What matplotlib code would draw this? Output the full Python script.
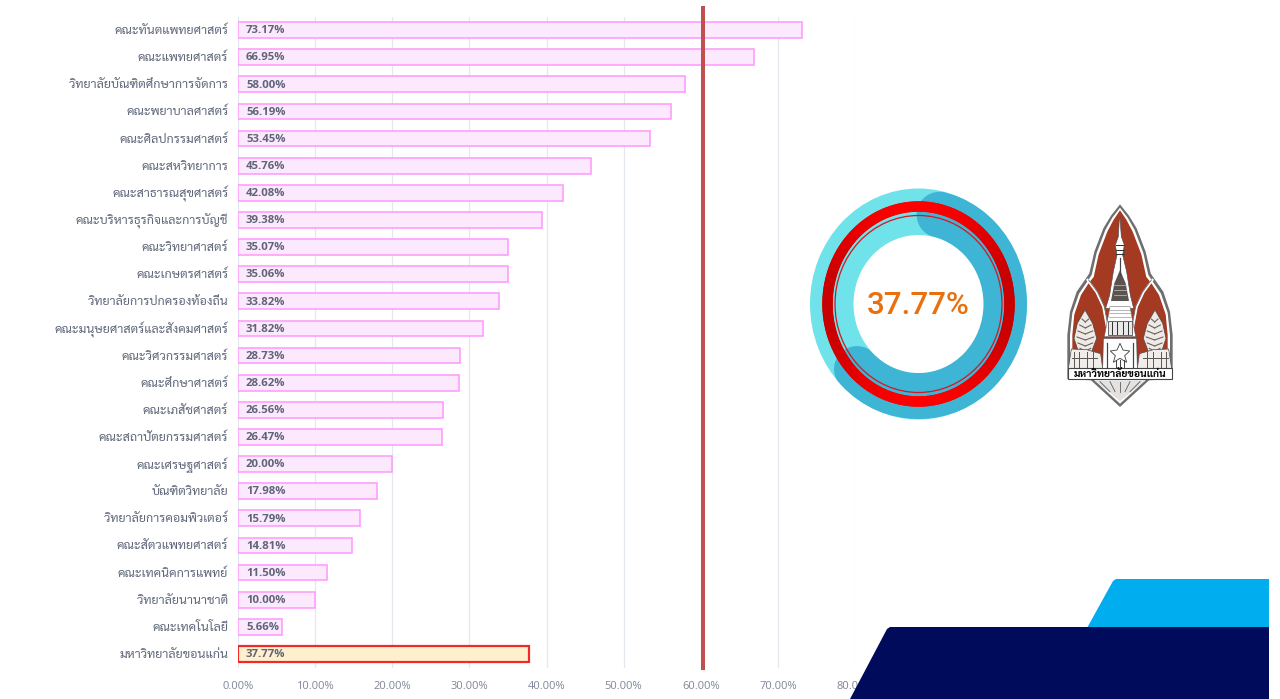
import matplotlib
matplotlib.use("Agg")
import numpy as np
import matplotlib.pyplot as plt
from matplotlib.collections import LineCollection
from matplotlib.patches import Ellipse, Polygon
from matplotlib.transforms import ScaledTranslation

plt.rcParams["font.family"] = ["Sarabun", "Noto Sans Thai", "DejaVu Sans"]

faculties = ["คณะทันตแพทยศาสตร์", "คณะแพทยศาสตร์", "วิทยาลัยบัณฑิตศึกษาการจัดการ",
             "คณะพยาบาลศาสตร์", "คณะศิลปกรรมศาสตร์", "คณะสหวิทยาการ",
             "คณะสาธารณสุขศาสตร์", "คณะบริหารธุรกิจและการบัญชี", "คณะวิทยาศาสตร์",
             "คณะเกษตรศาสตร์", "วิทยาลัยการปกครองท้องถิ่น", "คณะมนุษยศาสตร์และสังคมศาสตร์",
             "คณะวิศวกรรมศาสตร์", "คณะศึกษาศาสตร์", "คณะเภสัชศาสตร์",
             "คณะสถาปัตยกรรมศาสตร์", "คณะเศรษฐศาสตร์", "บัณฑิตวิทยาลัย",
             "วิทยาลัยการคอมพิวเตอร์", "คณะสัตวแพทยศาสตร์", "คณะเทคนิคการแพทย์",
             "วิทยาลัยนานาชาติ", "คณะเทคโนโลยี", "มหาวิทยาลัยขอนแก่น"]
percents = [73.17, 66.95, 58.00, 56.19, 53.45, 45.76, 42.08, 39.38, 35.07, 35.06,
            33.82, 31.82, 28.73, 28.62, 26.56, 26.47, 20.00, 17.98, 15.79, 14.81,
            11.50, 10.00, 5.66, 37.77]
xticks = [0, 10, 20, 30, 40, 50, 60, 70, 80]
target_line = 60.35
overall = 37.77

W, H = 1280, 699
PX = 72 / 100

fig = plt.figure(figsize=(W / 100, H / 100), dpi=100)
ax = fig.add_axes([238 / W, 1 - 667.5 / H, 617 / W, 651 / H])

y = np.arange(len(faculties))
colors = ["#FCE9FE"] * 23 + ["#FFF0CD"]
edges = ["#FD9CFD"] * 23 + ["#EE2A2A"]
widths = [1.6 * PX] * 23 + [2.2 * PX]
ax.barh(y, percents, height=0.58, color=colors, edgecolor=edges, linewidth=widths, zorder=3)
ax.set_xlim(0, 80)
ax.set_ylim(23.5, -0.5)
ax.set_yticks(y, faculties)
ax.set_xticks(xticks, ["%.2f%%" % v for v in xticks])
ax.tick_params(axis="y", length=0, pad=7, labelsize=9.0, labelcolor="#5F6779")
ax.tick_params(axis="x", length=0, pad=9.5, labelcolor="#7E8696")
up_1px = ScaledTranslation(0, 1 / 100, fig.dpi_scale_trans)
for lab in ax.get_yticklabels():
    lab.set_transform(lab.get_transform() + up_1px)
for lab in ax.get_xticklabels():
    lab.set_family(["Open Sans", "DejaVu Sans"])
    lab.set_fontsize(8.0)
ax.grid(axis="x", color="#E3E7EE", lw=1.2 * PX, zorder=0)
ax.set_axisbelow(True)
for s in ax.spines.values():
    s.set_visible(False)
ax.axvline(0, color="#E3E7EE", lw=1.5 * PX, zorder=1)

for yy, p in zip(y, percents):
    ax.annotate("%.2f%%" % p, (0, yy), xytext=(8 * PX, -0.5), textcoords="offset points",
                ha="left", va="center", fontsize=8.2, fontweight="bold", color="#5F6578",
                family=["Open Sans", "DejaVu Sans"], zorder=5)

ax.axvline(target_line, ymin=0, ymax=1.0135, color="#C0504D", lw=4 * PX, clip_on=False, zorder=6)

# overlay in image pixels for the decoration on the right
ov = fig.add_axes([0, 0, 1, 1], zorder=10)
ov.set_xlim(0, W)
ov.set_ylim(H, 0)
ov.axis("off")
ov.patch.set_alpha(0)

ov.add_patch(Polygon([(1113, 581), (1116, 579), (1269, 579), (1269, 628), (1087, 628)],
                     fc="#00AEEF", ec="none"))
ov.add_patch(Polygon([(887, 629), (890, 627), (1269, 627), (1269, 699), (850, 699)],
                     fc="#000B5C", ec="none"))

# donut
cx, cy = 918.5, 304
outer = Ellipse((cx, cy), 217, 231, fc="#6FE3E9", ec="none", zorder=1)
ov.add_patch(outer)
t = np.radians(np.linspace(14, 225, 300))
arc, = ov.plot(cx + 87 * np.sin(t), cy - 92 * np.cos(t), color="#3FB5D5", lw=46 * PX,
               solid_capstyle="round", zorder=1.5)
arc.set_clip_path(outer)
ov.add_patch(Ellipse((cx, cy), 130, 138, fc="white", ec="none", zorder=2))

# red ring, brighter at top and bottom
t = np.linspace(0, 2 * np.pi, 181)
pts = np.column_stack([cx + 91 * np.sin(t), cy - 97.5 * np.cos(t)])
segs = np.stack([pts[:-1], pts[1:]], axis=1)
shade = np.abs(np.cos(t[:-1])) ** 2
seg_cols = [(0.78 + 0.22 * s, 0, 0, 1) for s in shade]
ov.add_collection(LineCollection(segs, colors=seg_cols, linewidths=10.5 * PX, capstyle="round",
                                 zorder=3))
ov.add_patch(Ellipse((cx, cy), 167, 177, fc="none", ec="#CF1B28", lw=1.3 * PX, zorder=3))

ov.text(cx, cy + 1, "37.77%", ha="center", va="center", color="#E8700F", fontsize=22.5,
        fontweight=500, family=["Roboto", "DejaVu Sans"], zorder=4)


# logo, drawn in the coordinates of a 3x crop
def z(px, py):
    return (1055 + px / 3, 195 + py / 3)


def shape(pts, mirror=False, **kw):
    pp = [z(*p) for p in pts]
    if mirror:
        pp = pp + [(2 * 1120 - a, b) for a, b in pp[::-1]]
    ov.add_patch(Polygon(pp, closed=True, zorder=5, **kw))


def stroke(x0, y0, x1, y1, color="#444444", lw=1.0):
    ov.plot(*zip(z(x0, y0), z(x1, y1)), color=color, lw=lw * PX, zorder=5)


crest = [(195, 28), (222, 62), (245, 100), (272, 170), (287, 235), (297, 250), (325, 290),
         (345, 350), (353, 420), (353, 552), (282, 556), (195, 636)]
shape(crest, True, fc="#6E6E6E", ec="none")
inner = [(195, 38), (218, 68), (239, 105), (265, 174), (280, 240), (292, 258), (318, 296),
         (338, 354), (345, 420), (345, 548), (278, 550), (195, 626)]
shape(inner, True, fc="white", ec="none")
brown = [(195, 46), (214, 74), (233, 110), (259, 178), (274, 246), (290, 266), (312, 300),
         (332, 358), (338, 420), (338, 522), (195, 522)]
shape(brown, True, fc="#A53A23", ec="none")
# lobe dividers
for sgn in (1, -1):
    xs = np.array([97, 70, 50, 38])
    ys = [255, 292, 335, 400]
    ov.plot(*zip(*[z(195 + sgn * a, b) for a, b in zip(xs, ys)]), color="white", lw=2.4 * PX, zorder=5)
    ov.plot(*zip(*[z(195 + sgn * a, b) for a, b in zip(xs - 3, ys)]), color="#555555", lw=0.7 * PX, zorder=5)

# spire
shape([(194, 55), (199, 125), (208, 150), (203, 180), (215, 230), (226, 300), (236, 340),
       (152, 340), (164, 300), (175, 230), (186, 180), (181, 150), (190, 125)],
      fc="white", ec="#4A4A4A", lw=0.6 * PX)
shape([(195, 225), (212, 265), (222, 318), (168, 318), (178, 265)], fc="#5A5350", ec="none")
for py in (150, 165, 178):
    stroke(182, py, 208, py, "#333333")
stroke(195, 190, 195, 240, "#444444", 1.2)
for py in (270, 285, 300):
    stroke(176, py, 214, py, "#C9C3BF", 0.7)

# tower body
shape([(165, 335), (225, 335), (242, 425), (148, 425)], fc="white", ec="#5A5A5A", lw=0.5 * PX)
for py in (345, 355, 365):
    stroke(162, py, 228, py, "#8A8A8A", 0.6)
shape([(160, 378), (230, 378), (230, 420), (160, 420)], fc="#E9E9E9", ec="#333333", lw=0.7 * PX)
for px in (172, 185, 205, 218):
    stroke(px, 382, px, 418, "#333333")
shape([(145, 430), (245, 430), (247, 522), (143, 522)], fc="white", ec="#444444", lw=0.6 * PX)
shape([(195, 445), (204, 465), (224, 468), (209, 482), (215, 502), (195, 490), (175, 502),
       (181, 482), (166, 468), (186, 465)], fc="white", ec="#333333", lw=0.8 * PX)
for px in (157, 233):
    stroke(px, 445, px, 515, "#444444", 1.2)
for px in (183, 195, 207):
    stroke(px, 495, px, 520)

# guardians and lions
for sgn in (1, -1):
    def m(a, b):
        return (195 + sgn * a, b)
    shape([m(105, 345), m(128, 385), m(138, 430), m(124, 472), m(86, 472), m(70, 430), m(82, 385)],
          fc="#EFEAE6", ec="#4A4A4A", lw=0.7 * PX)
    for py, hw in ((372, 10), (390, 17), (408, 22), (426, 25), (444, 22), (460, 16)):
        stroke(*m(104 - hw, py), *m(104, py + 9), "#6A625E", 1.1)
        stroke(*m(104 + hw, py), *m(104, py + 9), "#6A625E", 1.1)
    shape([m(58, 476), m(100, 464), m(146, 462), m(155, 520), m(52, 520)],
          fc="#F0EDEA", ec="#4A4A4A", lw=0.7 * PX)
    stroke(*m(70, 490), *m(144, 490), "#5A5A5A")
    for a in (80, 100, 122, 138):
        stroke(*m(a, 472), *m(a, 516), "#5A5A5A")

# banner and foot
shape([(38, 520), (352, 520), (352, 553), (38, 553)], fc="white", ec="#444444", lw=1.1 * PX)
shape([(118, 556), (195, 618), (272, 556)], fc="#E4E1DF", ec="none")
for px in (135, 165, 195, 225, 255):
    stroke(px, 560, 195 + (px - 195) * 0.5, 590, "#666666", 0.9)
ov.text(*z(195, 537), "มหาวิทยาลัยขอนแก่น", ha="center", va="center", color="black",
        fontsize=7.4, fontweight="bold", zorder=6)

fig.savefig("out.png", dpi=100)
